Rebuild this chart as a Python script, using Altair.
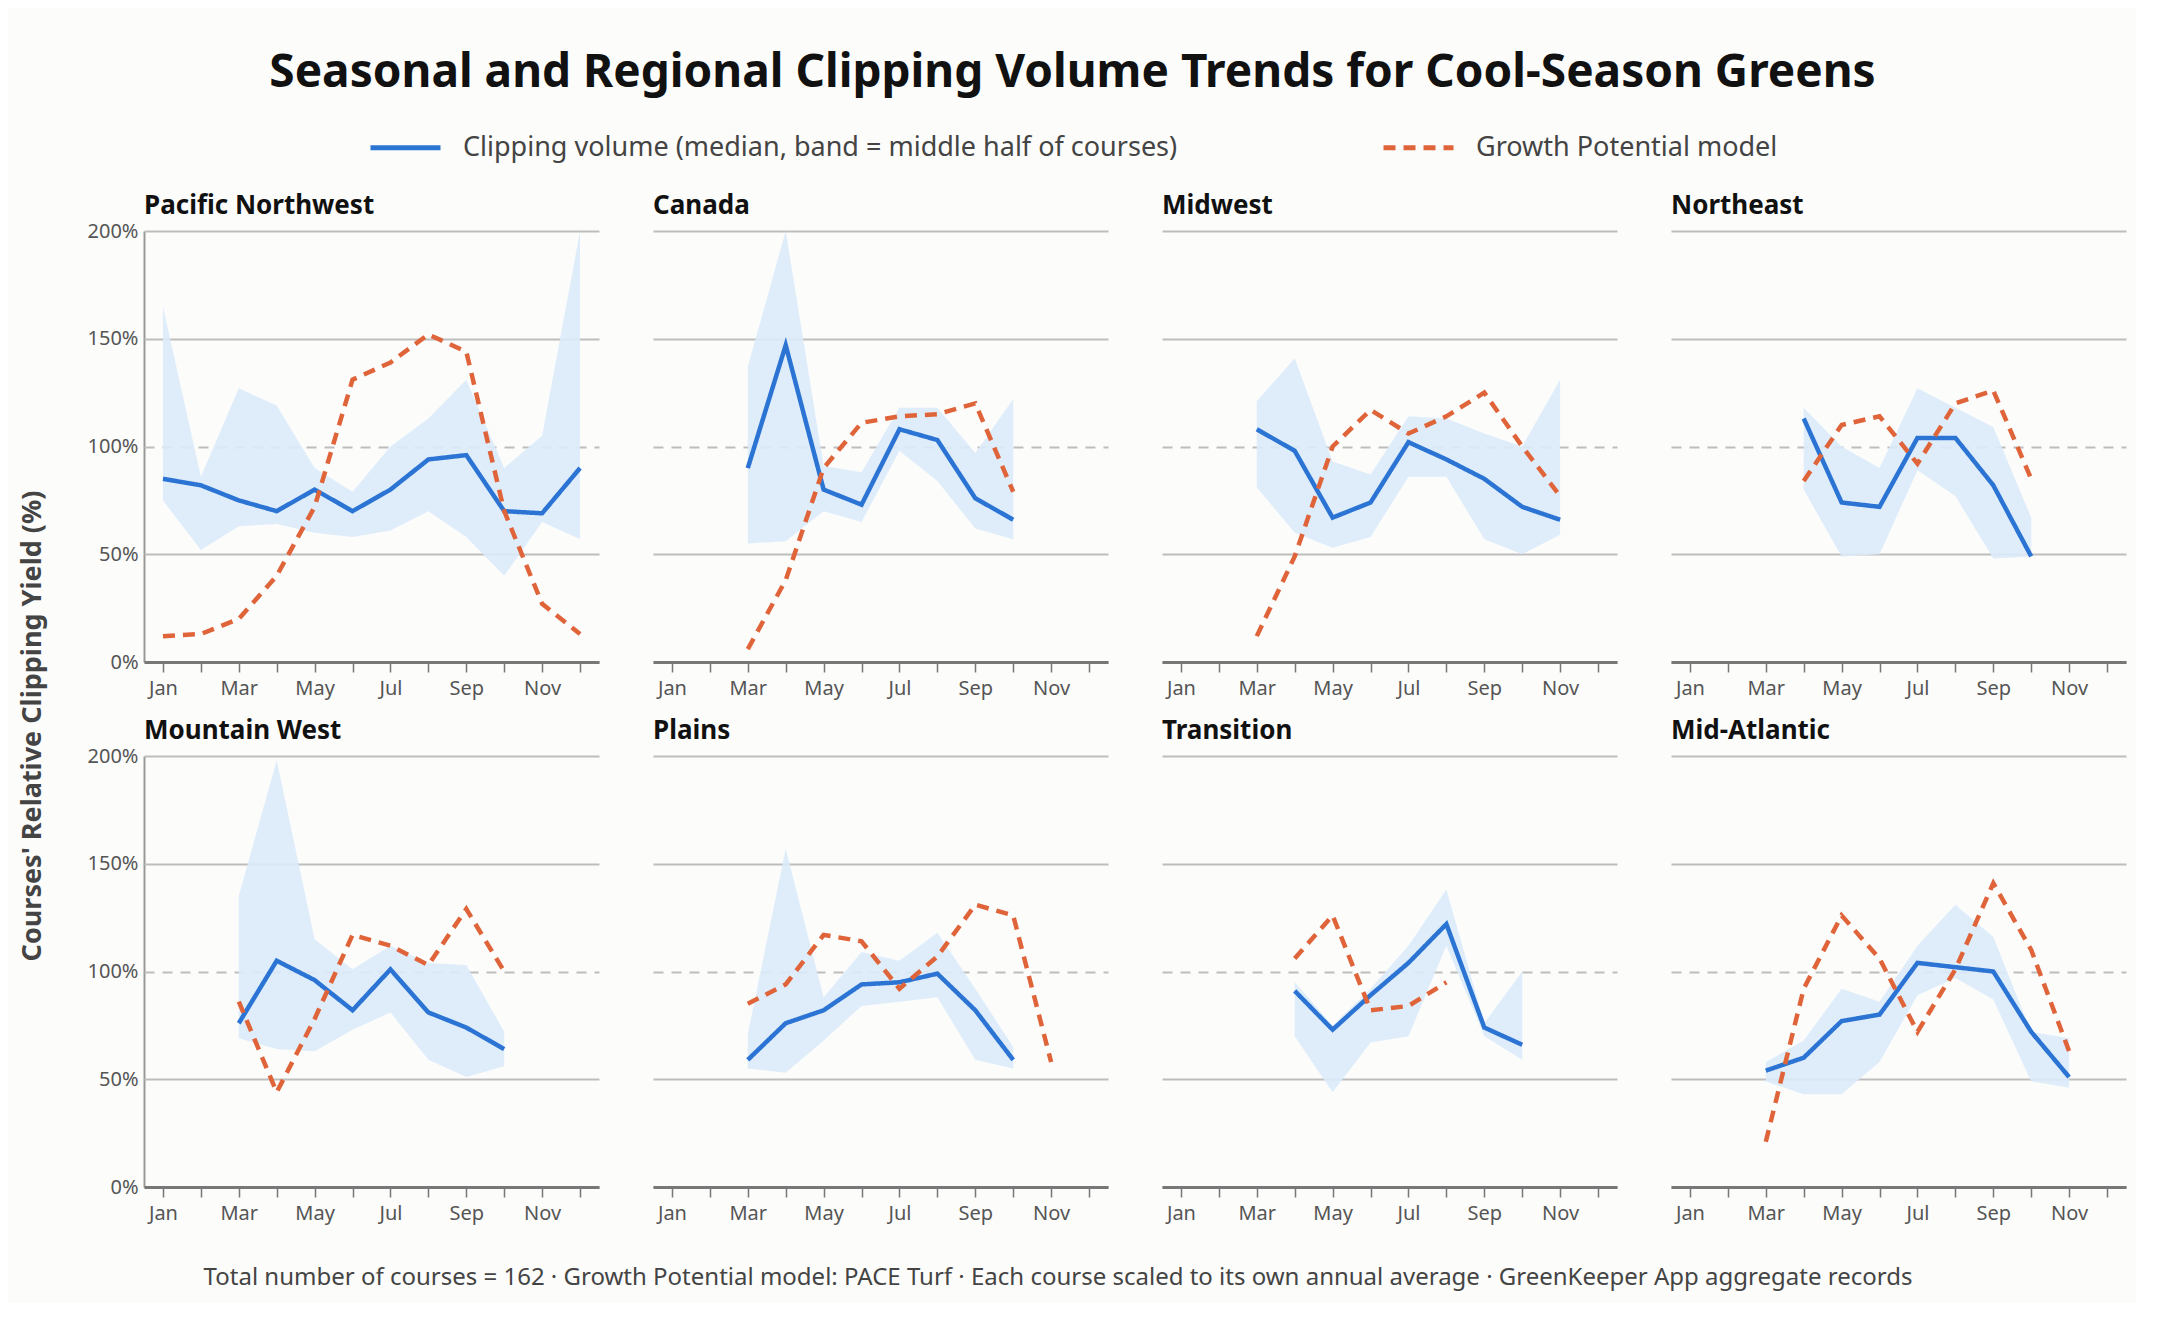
import altair as alt
import pandas as pd

regions = ["Pacific Northwest", "Canada", "Midwest", "Northeast",
           "Mountain West", "Plains", "Transition", "Mid-Atlantic"]
month_names = ["Jan", "Feb", "Mar", "Apr", "May", "Jun",
               "Jul", "Aug", "Sep", "Oct", "Nov", "Dec"]

# clipping volume: months, median, band low, band high (percent)
pnw_m = [1, 2, 3, 4, 5, 6, 7, 8, 9, 10, 11, 12]
pnw_med = [85, 82, 75, 70, 80, 70, 80, 94, 96, 70, 69, 90]
pnw_lo = [75, 52, 63, 64, 60, 58, 61, 70, 58, 40, 65, 57]
pnw_hi = [165, 86, 127, 119, 90, 79, 100, 113, 131, 90, 105, 200]

can_m = [3, 4, 5, 6, 7, 8, 9, 10]
can_med = [90, 147, 80, 73, 108, 103, 76, 66]
can_lo = [55, 56, 70, 65, 98, 84, 62, 57]
can_hi = [137, 200, 91, 88, 118, 118, 97, 122]

mid_m = [3, 4, 5, 6, 7, 8, 9, 10, 11]
mid_med = [108, 98, 67, 74, 102, 94, 85, 72, 66]
mid_lo = [81, 60, 53, 58, 86, 86, 57, 50, 59]
mid_hi = [121, 141, 93, 87, 114, 113, 106, 100, 131]

ne_m = [4, 5, 6, 7, 8, 9, 10]
ne_med = [113, 74, 72, 104, 104, 82, 49]
ne_lo = [80, 49, 50, 89, 77, 48, 49]
ne_hi = [118, 100, 90, 127, 118, 109, 67]

mw_m = [3, 4, 5, 6, 7, 8, 9, 10]
mw_med = [76, 105, 96, 82, 101, 81, 74, 64]
mw_lo = [69, 64, 63, 73, 81, 59, 51, 56]
mw_hi = [135, 198, 115, 101, 112, 104, 103, 72]

pl_m = [3, 4, 5, 6, 7, 8, 9, 10]
pl_med = [59, 76, 82, 94, 95, 99, 82, 59]
pl_lo = [55, 53, 68, 84, 86, 88, 59, 55]
pl_hi = [71, 157, 88, 109, 105, 118, 92, 65]

tr_m = [4, 5, 6, 7, 8, 9, 10]
tr_med = [91, 73, 89, 104, 122, 74, 66]
tr_lo = [70, 44, 67, 70, 112, 70, 59]
tr_hi = [95, 75, 92, 112, 138, 76, 100]

ma_m = [3, 4, 5, 6, 7, 8, 9, 10, 11]
ma_med = [54, 60, 77, 80, 104, 102, 100, 72, 51]
ma_lo = [49, 43, 43, 58, 89, 97, 87, 49, 46]
ma_hi = [58, 68, 92, 86, 112, 131, 116, 72, 69]

# growth potential model: months, value (percent)
pnw_gm = [1, 2, 3, 4, 5, 6, 7, 8, 9, 10, 11, 12]
pnw_gp = [12, 13, 20, 40, 72, 131, 139, 152, 144, 70, 27, 13]
can_gm = [3, 4, 5, 6, 7, 8, 9, 10]
can_gp = [6, 38, 90, 111, 114, 115, 120, 79]
mid_gm = [3, 4, 5, 6, 7, 8, 9, 10, 11]
mid_gp = [12, 49, 100, 117, 106, 114, 125, 100, 77]
ne_gm = [4, 5, 6, 7, 8, 9, 10]
ne_gp = [84, 110, 114, 92, 120, 126, 85]
mw_gm = [3, 4, 5, 6, 7, 8, 9, 10]
mw_gp = [86, 44, 78, 117, 112, 103, 129, 100]
pl_gm = [3, 4, 5, 6, 7, 8, 9, 10, 11]
pl_gp = [85, 94, 117, 114, 92, 107, 131, 126, 58]
tr_gm = [4, 5, 6, 7, 8]
tr_gp = [106, 126, 82, 84, 95]
ma_gm = [3, 4, 5, 6, 7, 8, 9, 10, 11]
ma_gp = [21, 92, 126, 106, 72, 101, 141, 110, 63]

vol = [(pnw_m, pnw_med, pnw_lo, pnw_hi), (can_m, can_med, can_lo, can_hi),
       (mid_m, mid_med, mid_lo, mid_hi), (ne_m, ne_med, ne_lo, ne_hi),
       (mw_m, mw_med, mw_lo, mw_hi), (pl_m, pl_med, pl_lo, pl_hi),
       (tr_m, tr_med, tr_lo, tr_hi), (ma_m, ma_med, ma_lo, ma_hi)]
gpm = [(pnw_gm, pnw_gp), (can_gm, can_gp), (mid_gm, mid_gp), (ne_gm, ne_gp),
       (mw_gm, mw_gp), (pl_gm, pl_gp), (tr_gm, tr_gp), (ma_gm, ma_gp)]

S_MED = "Clipping volume (median, band = middle half of courses)"
S_GP = "Growth Potential model"

rows = []
for r, (m, med, lo, hi) in zip(regions, vol):
    for i in range(len(m)):
        rows.append(dict(region=r, month=m[i], value=med[i] / 100,
                         lo=lo[i] / 100, hi=hi[i] / 100, series=S_MED))
for r, (m, g) in zip(regions, gpm):
    for i in range(len(m)):
        rows.append(dict(region=r, month=m[i], value=g[i] / 100, series=S_GP))
df = pd.DataFrame(rows)

FONT = "Noto Sans"
xax = alt.X(
    "month:Q",
    scale=alt.Scale(domain=[0.5, 12.5], nice=False, zero=False),
    axis=alt.Axis(
        values=list(range(1, 13)),
        labelExpr="datum.value % 2 == 1 ? " + str(month_names) + "[datum.value - 1] : ''",
        title=None, grid=False, domainColor="#777", domainWidth=3,
        tickColor="#777", tickSize=10, tickWidth=1.5, labelFontSize=20,
        labelColor="#555", labelPadding=6,
    ),
)
yax = alt.Axis(
    values=[0, 0.5, 1, 1.5, 2], format=".0%", title=None,
    grid=True, gridColor="#bdbdbd", gridWidth=2,
    gridDash=alt.condition("datum.value == 1", alt.value([10, 8]), alt.value([])),
    domainColor="#999", domainWidth=2, ticks=False,
    labelFontSize=20, labelColor="#555", labelPadding=6,
)

band = alt.Chart().mark_area(color="#dcebfb", opacity=0.9).encode(
    x=xax,
    y=alt.Y("lo:Q", scale=alt.Scale(domain=[0, 2]), axis=yax),
    y2="hi:Q",
).transform_filter(alt.datum.series == S_MED)

lines = alt.Chart().mark_line(strokeWidth=4.5).encode(
    x=xax,
    y=alt.Y("value:Q", scale=alt.Scale(domain=[0, 2]), axis=yax),
    color=alt.Color("series:N", sort=[S_MED, S_GP],
                    scale=alt.Scale(domain=[S_MED, S_GP], range=["#2b74d4", "#e0643a"]),
                    legend=alt.Legend(title=None, orient="none", direction="horizontal",
                                      legendX=345, legendY=-121,
                                      symbolType="stroke", symbolStrokeWidth=5,
                                      symbolSize=4900, labelFontSize=27,
                                      labelColor="#444", columnPadding=195,
                                      labelOffset=20, labelLimit=1000)),
    strokeDash=alt.StrokeDash("series:N", sort=[S_MED, S_GP],
                              scale=alt.Scale(domain=[S_MED, S_GP], range=[[1, 0], [12, 8]]),
                              legend=None),
    detail="series:N",
)

grid = alt.layer(band, lines, data=df).properties(width=455, height=431).facet(
    facet=alt.Facet("region:N", sort=regions, title=None,
                    header=alt.Header(labelAnchor="start", labelFontSize=26,
                                      labelFontWeight="bold", labelColor="#111",
                                      labelFont=FONT, labelPadding=12)),
    columns=4, spacing={"row": 20, "column": 54},
).resolve_axis(x="independent")

ytitle = alt.Chart(pd.DataFrame({"t": ["Courses' Relative Clipping Yield (%)"]})).mark_text(
    angle=270, fontSize=27, fontWeight="bold", color="#444", font=FONT,
).encode(text="t:N").properties(width=20, height=990)

foot = alt.Chart(pd.DataFrame({"t": [
    "Total number of courses = 162 \u00b7 Growth Potential model: PACE Turf \u00b7 "
    "Each course scaled to its own annual average \u00b7 GreenKeeper App aggregate records"
]})).mark_text(fontSize=24, color="#444", font=FONT).encode(
    text="t:N").properties(width=2070, height=30)

chart = alt.vconcat(alt.hconcat(ytitle, grid, spacing=40), foot, spacing=40).properties(
    title=alt.TitleParams("Seasonal and Regional Clipping Volume Trends for Cool-Season Greens",
                          fontSize=46, fontWeight="bold", anchor="middle", font=FONT,
                          color="#111", offset=13),
    background="#fcfcfb",
    padding={"left": 10, "top": 42, "right": 10, "bottom": 10},
).configure(font=FONT, view=alt.ViewConfig(stroke=None))

chart.save("out.html", embed_options={"renderer": "svg", "actions": False})
